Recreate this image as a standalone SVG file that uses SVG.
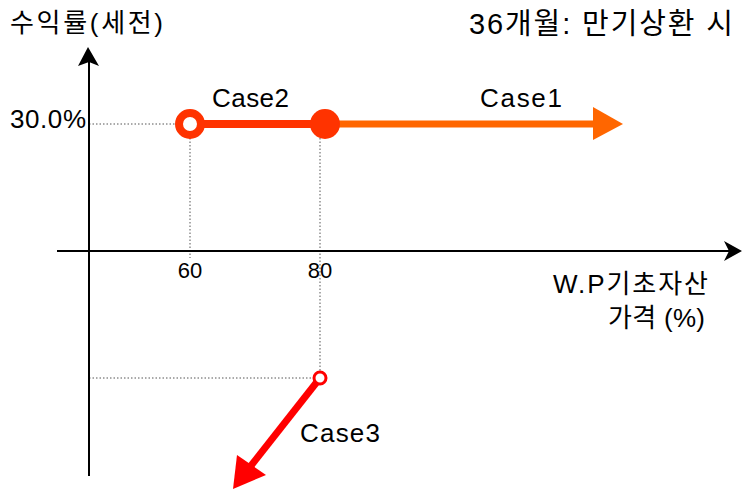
<svg xmlns="http://www.w3.org/2000/svg" width="742" height="490" viewBox="0 0 742 490">
<style>
text{font-family:"Liberation Sans","Noto Sans CJK KR",sans-serif;fill:#000}
.t29{font-size:29px}
.t26{font-size:26px}
.t22{font-size:22px}
.dot{stroke:#555;stroke-width:1;stroke-dasharray:1.5 2;fill:none}
.axis{stroke:#000;stroke-width:2;fill:none}
</style>
<rect width="742" height="490" fill="#fff"/>
<g id="guides">
<path class="dot" d="M89 124H190M190 124V258M320 124V378M89 378H320"/>
</g>
<g id="axes">
<line class="axis" x1="89" y1="60" x2="89" y2="476"/>
<polygon points="88,47 99,66 89,62 78,66" fill="#000"/>
<line class="axis" x1="57" y1="251" x2="732" y2="251"/>
<polygon points="742,251 724,241 729,251 724,261" fill="#000"/>
</g>
<g id="connectors">
<line x1="325" y1="124" x2="594" y2="124" stroke="#FF6600" stroke-width="7"/>
<polygon points="623,124 593,107 593,140" fill="#FF6600"/>
<line x1="190" y1="124" x2="325" y2="124" stroke="#FF3300" stroke-width="8"/>
<line x1="320" y1="378" x2="250" y2="467" stroke="#FF0000" stroke-width="7"/>
<polygon points="233,489 237,455 266,475" fill="#FF0000"/>
</g>
<g id="case2-start">
<circle cx="190" cy="124" r="11" fill="#fff" stroke="#FF3300" stroke-width="8"/>
</g>
<g id="case1-start">
<circle cx="325" cy="124" r="15" fill="#FF3300"/>
</g>
<g id="case3-start">
<circle cx="320" cy="378" r="6" fill="#fff" stroke="#FF0000" stroke-width="3"/>
</g>
<g id="labels">
<text class="t26" x="10" y="32" textLength="153" lengthAdjust="spacing">수익률(세전)</text>
<text class="t29" x="469" y="34" textLength="264" lengthAdjust="spacing">36개월: 만기상환 시</text>
<text class="t26" x="10" y="128" textLength="76" lengthAdjust="spacing">30.0%</text>
<text class="t26" x="212" y="107" textLength="77" lengthAdjust="spacing">Case2</text>
<text class="t26" x="480" y="107" textLength="82" lengthAdjust="spacing">Case1</text>
<text class="t26" x="300" y="442" textLength="80" lengthAdjust="spacing">Case3</text>
<text class="t22" x="190" y="278" text-anchor="middle">60</text>
<text class="t22" x="320" y="278" text-anchor="middle">80</text>
<text class="t26" x="553" y="293" textLength="155" lengthAdjust="spacing">W.P기초자산</text>
<text class="t26" x="608" y="327" textLength="97" lengthAdjust="spacing">가격 (%)</text>
</g>
</svg>
